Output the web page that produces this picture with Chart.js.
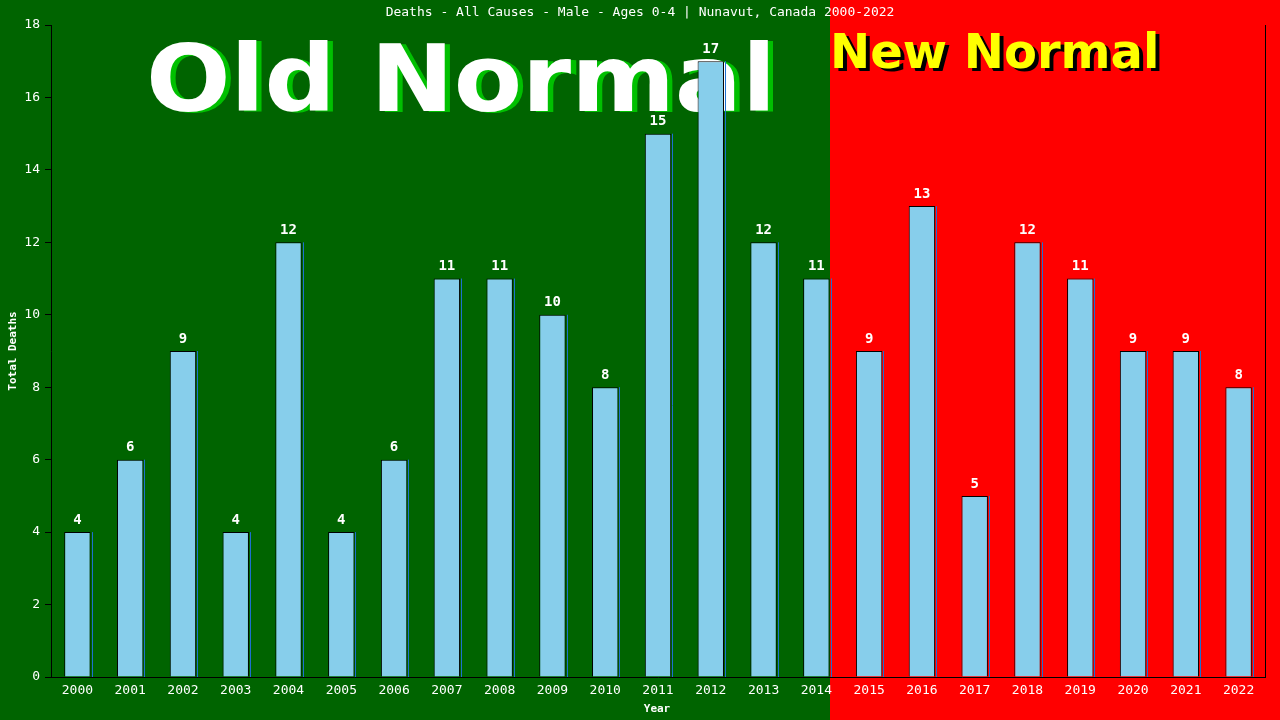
<!DOCTYPE html>
<html>
<head>
<meta charset="utf-8">
<script src="https://cdn.jsdelivr.net/npm/chart.js@4"></script>
<style>
  html, body { margin: 0; padding: 0; background: #006400; }
  #chart { display: block; }
</style>
</head>
<body>
<canvas id="chart" width="1280" height="720"></canvas>
<script>
const years = ['2000', '2001', '2002', '2003', '2004', '2005', '2006', '2007', '2008', '2009', '2010', '2011',
    '2012', '2013', '2014', '2015', '2016', '2017', '2018', '2019', '2020', '2021', '2022'];
const deaths = [4, 6, 9, 4, 12, 4, 6, 11, 11, 10, 8, 15, 17, 12, 11, 9, 13, 5, 12, 11, 9, 9, 8];
const yTicks = [0, 2, 4, 6, 8, 10, 12, 14, 16, 18];
const lastOldYear = '2014';
const chartTitle = 'Deaths - All Causes - Male - Ages 0-4 | Nunavut, Canada 2000-2022';

const MONO = '"DejaVu Sans Mono", "Liberation Mono", monospace';

const backdrop = {
    id: 'backdrop',
    beforeDraw(chart) {
        const ctx = chart.ctx;
        const meta = chart.getDatasetMeta(0);
        const bar = meta.data[years.indexOf(lastOldYear)];
        const split = Math.round(bar.x + bar.width / 2);
        ctx.save();
        ctx.fillStyle = '#006400';
        ctx.fillRect(0, 0, split, chart.height);
        ctx.fillStyle = '#FF0000';
        ctx.fillRect(split, 0, chart.width - split, chart.height);

        // Old Normal, stretched a little to match the wide heading
        ctx.save();
        ctx.translate(461, 111);
        ctx.scale(1.07, 1);
        ctx.textAlign = 'center';
        ctx.textBaseline = 'alphabetic';
        ctx.font = 'bold 93px "DejaVu Sans", sans-serif';
        ctx.fillStyle = '#00C000';
        ctx.fillText('Old Normal', 5, 1);
        ctx.fillStyle = '#FFFFFF';
        ctx.fillText('Old Normal', 0, 0);
        ctx.restore();

        // New Normal
        ctx.textAlign = 'left';
        ctx.font = 'bold 48px "DejaVu Sans", sans-serif';
        ctx.fillStyle = '#000000';
        ctx.fillText('New Normal', split + 4, 71);
        ctx.fillStyle = '#FFFF00';
        ctx.fillText('New Normal', split, 68);
        ctx.restore();
    },
    afterDatasetsDraw(chart) {
        const ctx = chart.ctx;
        const meta = chart.getDatasetMeta(0);
        const area = chart.chartArea;
        ctx.save();
        meta.data.forEach((bar, i) => {
            const right = bar.x + bar.width / 2;
            ctx.strokeStyle = '#1E6FD0';
            ctx.lineWidth = 1;
            ctx.beginPath();
            ctx.moveTo(Math.round(right) + 1.5, bar.y);
            ctx.lineTo(Math.round(right) + 1.5, area.bottom);
            ctx.stroke();

            ctx.fillStyle = '#FFFFFF';
            ctx.font = 'bold 14px ' + MONO;
            ctx.textAlign = 'center';
            ctx.textBaseline = 'bottom';
            ctx.fillText(String(deaths[i]), bar.x, bar.y - 5);
        });

        // right frame line
        ctx.strokeStyle = '#000000';
        ctx.lineWidth = 1;
        ctx.beginPath();
        ctx.moveTo(Math.round(area.right) + 0.5, area.top);
        ctx.lineTo(Math.round(area.right) + 0.5, area.bottom);
        ctx.stroke();

        // title and axis titles
        ctx.fillStyle = '#FFFFFF';
        ctx.textAlign = 'center';
        ctx.textBaseline = 'middle';
        ctx.font = '13px ' + MONO;
        ctx.fillText(chartTitle, 640, 13);
        ctx.font = 'bold 11px ' + MONO;
        ctx.fillText('Year', 657, 709);
        ctx.translate(13, 351);
        ctx.rotate(-Math.PI / 2);
        ctx.fillText('Total Deaths', 0, 0);
        ctx.restore();
    }
};

new Chart(document.getElementById('chart').getContext('2d'), {
    type: 'bar',
    data: {
        labels: years,
        datasets: [{
            data: deaths,
            backgroundColor: '#87CEEB',
            borderColor: '#000000',
            borderWidth: 1,
            categoryPercentage: 1.0,
            barPercentage: 0.5
        }]
    },
    options: {
        responsive: false,
        animation: false,
        layout: { padding: { top: 25, right: 15, left: 0, bottom: 0 } },
        plugins: {
            legend: { display: false },
            tooltip: { enabled: false },
            title: { display: false }
        },
        scales: {
            x: {
                afterFit(scale) { scale.height = 43; },
                grid: { display: false, drawTicks: false },
                border: { display: true, color: '#000000', width: 1 },
                ticks: { color: '#FFFFFF', font: { family: MONO, size: 13 }, maxRotation: 0, autoSkip: false, padding: 6 }
            },
            y: {
                min: 0,
                max: 18,
                afterFit(scale) { scale.width = 51; },
                afterBuildTicks(scale) { scale.ticks = yTicks.map(v => ({ value: v })); },
                grid: { drawOnChartArea: false, drawTicks: true, tickLength: 6, color: '#000000' },
                border: { display: true, color: '#000000', width: 1 },
                ticks: { color: '#FFFFFF', font: { family: MONO, size: 13 }, padding: 5 }
            }
        }
    },
    plugins: [backdrop]
});
</script>
</body>
</html>
